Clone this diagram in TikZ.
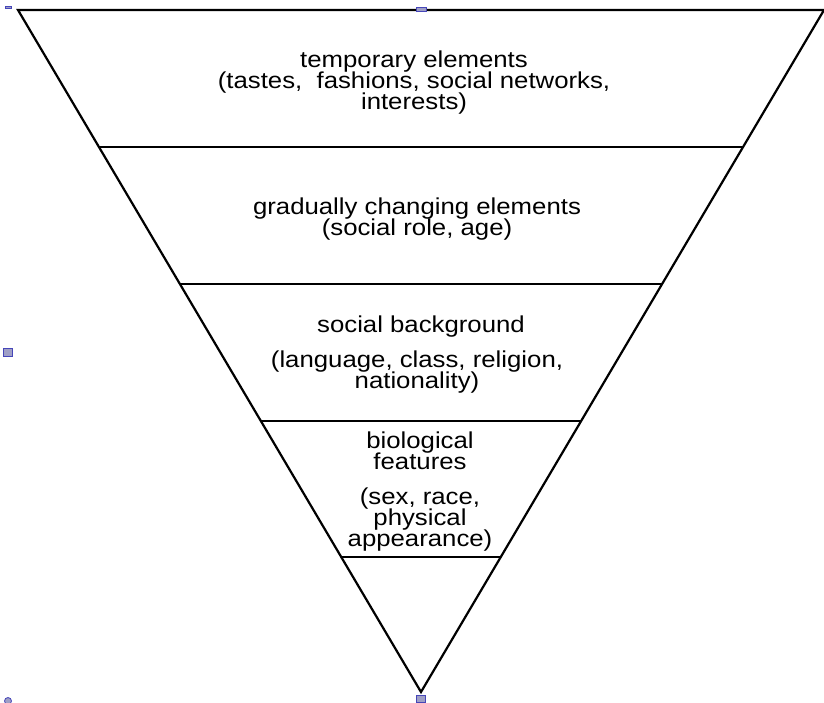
\documentclass[tikz,border=0pt]{standalone}
\usepackage{fontspec}
\setmainfont{Liberation Sans}
\begin{document}
\begin{tikzpicture}[x=1pt,y=-1pt,
  edge/.style={line width=2.2pt,line join=miter},
  lbl/.style={anchor=base,inner sep=0pt,font=\fontsize{23}{21}\selectfont,xscale=1.12},
  handle/.style={draw=blue!45!gray,fill=blue!25!gray!60,line width=0.8pt,inner sep=0pt}]
\useasboundingbox (0,0) rectangle (824,702);
% triangle corners
\coordinate (tl) at (18,10);
\coordinate (tr) at (824,10);
\coordinate (ap) at (421,692);
\draw[edge] (tl) -- (tr) -- (ap) -- cycle;
% layer boundaries
\foreach \n/\yy in {a/147,b/284,c/421,d/557}{
  \path (tl) -- (ap) coordinate[pos={(\yy-10)/682}] (L\n);
  \path (tr) -- (ap) coordinate[pos={(\yy-10)/682}] (R\n);
  \draw[edge] (L\n) -- (R\n);
}
% texts
\node[lbl] (t1) at (414,67) {temporary elements};
\node[lbl] (t2) at (414,88) {(tastes,\ \ fashions, social networks,};
\node[lbl] (t3) at (414,109) {interests)};
\node[lbl] (g1) at (417,214) {gradually changing elements};
\node[lbl] (g2) at (417,235) {(social role, age)};
\node[lbl] (s1) at (421,332) {social background};
\node[lbl] (s2) at (417,367) {(language, class, religion,};
\node[lbl] (s3) at (417,388) {nationality)};
\node[lbl] (b1) at (420,448) {biological};
\node[lbl] (b2) at (420,469) {features};
\node[lbl] (b3) at (420,504) {(sex, race,};
\node[lbl] (b4) at (420,525) {physical};
\node[lbl] (b5) at (420,546) {appearance)};
% selection handles
\node[handle,minimum width=9pt,minimum height=8pt] (h1) at (8,352) {};
\node[handle,minimum width=10pt,minimum height=4pt] (h2) at (421,9) {};
\node[handle,minimum width=9pt,minimum height=7pt] (h3) at (421,699) {};
\node[handle,circle,minimum size=7pt] (h4) at (8,701) {};
\node[handle,minimum width=6pt,minimum height=2pt] (h5) at (8,7) {};
\end{tikzpicture}
\end{document}
